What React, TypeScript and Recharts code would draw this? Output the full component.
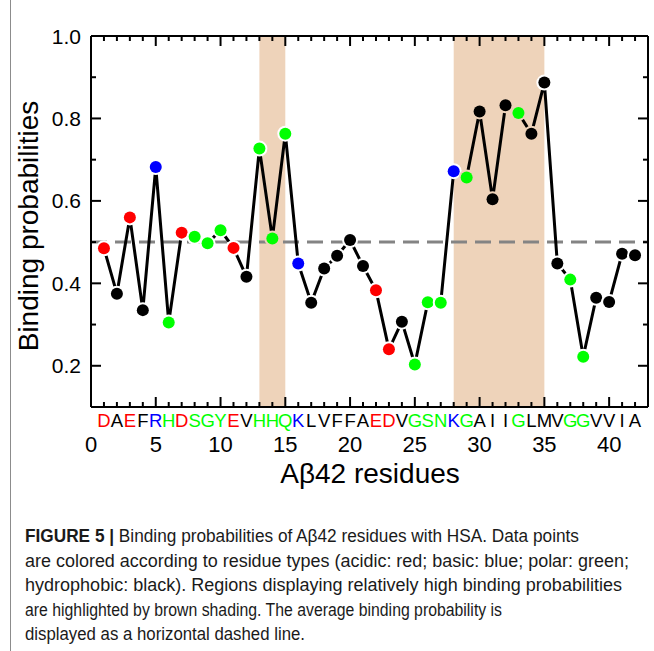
import React from 'react';
import { ComposedChart, Line, XAxis, YAxis, ReferenceArea, ReferenceLine } from 'recharts';

const residues = ['D','A','E','F','R','H','D','S','G','Y','E','V','H','H','Q','K','L','V','F','F','A','E','D','V','G','S','N','K','G','A','I','I','G','L','M','V','G','G','V','V','I','A'];
// a: acidic, b: basic, p: polar, h: hydrophobic
const residueTypes = ['a','h','a','h','b','p','a','p','p','p','a','h','p','p','p','b','h','h','h','h','h','a','a','h','p','p','p','b','p','h','h','h','p','h','h','h','p','p','h','h','h','h'];
const probabilities = [0.485,0.375,0.560,0.335,0.682,0.305,0.523,0.513,0.497,0.529,0.486,0.416,0.727,0.509,0.763,0.448,0.353,0.436,0.467,0.505,0.442,0.383,0.240,0.307,0.203,0.354,0.353,0.672,0.657,0.817,0.604,0.832,0.813,0.763,0.887,0.448,0.409,0.222,0.365,0.355,0.472,0.468];
const shadeStarts = [13, 28];
const shadeEnds = [15, 35];
const averageProbability = 0.5;
const xDomain = [0, 43];
const yDomain = [0.1, 1.0];
const xTicks = Array.from({ length: 43 }, (_, i) => i);
const yTicks = [0.2, 0.3, 0.4, 0.5, 0.6, 0.7, 0.8, 0.9, 1.0];
const yMajor = [0.2, 0.4, 0.6, 0.8, 1.0];
const captionLines = [
  'Binding probabilities of A\u03b242 residues with HSA. Data points',
  'are colored according to residue types (acidic: red; basic: blue; polar: green;',
  'hydrophobic: black). Regions displaying relatively high binding probabilities',
  'are highlighted by brown shading. The average binding probability is',
  'displayed as a horizontal dashed line.',
];
const captionWidths = [474, 604, 597, 477, 280];

const typeColors: Record<string, string> = { a: '#ff0000', b: '#0000ff', p: '#00ff00', h: '#000000' };
const SHADE = '#eed3ba';
const FONT = "'Liberation Sans', Arial, sans-serif";

// chart geometry
const CHART_W = 654;
const CHART_H = 500;
const MARGIN_TOP = 35;
const LEFT_W = 91;
const RIGHT_W = 6;
const BOTTOM_H = 93;
const TOP_H = 1;
const plotW = CHART_W - LEFT_W - RIGHT_W;
const plotH = CHART_H - MARGIN_TOP - TOP_H - BOTTOM_H;
const MAJOR_LEN = 10;
const MINOR_LEN = 5;

const data = probabilities.map((p, i) => ({ pos: i + 1, p, res: residues[i], type: residueTypes[i] }));

const inShade = (x: number) => shadeStarts.some((s, i) => x > s && x < shadeEnds[i]);
const isMajorY = (v: number) => yMajor.some((m) => Math.abs(m - v) < 1e-6);

const Dot = (props: any) => {
  const { cx, cy, payload } = props;
  if (cx == null || cy == null) return null;
  return (
    <g>
      <circle cx={cx} cy={cy} r={8} fill={inShade(payload.pos) ? SHADE : '#ffffff'} />
      <circle cx={cx} cy={cy} r={6} fill={typeColors[payload.type]} />
    </g>
  );
};

const BottomTick = (props: any) => {
  const { x, y, payload } = props;
  const v = payload.value as number;
  const major = v % 5 === 0;
  return (
    <g>
      {v >= 1 && v <= residues.length && (
        <text x={x} y={y + 20} textAnchor="middle" fontSize={18.5} fontFamily={FONT} fill={typeColors[residueTypes[v - 1]]}>
          {residues[v - 1]}
        </text>
      )}
      {major && (
        <text x={x} y={y + 45} textAnchor="middle" fontSize={22} fontFamily={FONT} fill="#000">
          {v}
        </text>
      )}
    </g>
  );
};

// Top axis ticks: draws the inward tick at the top frame and its mirror at the bottom frame.
const TopTick = (props: any) => {
  const { x, y, payload } = props;
  const len = (payload.value as number) % 5 === 0 ? MAJOR_LEN : MINOR_LEN;
  return (
    <g>
      <line x1={x} x2={x} y1={y} y2={y + len} stroke="#000" strokeWidth={2} />
      <line x1={x} x2={x} y1={y + plotH} y2={y + plotH - len} stroke="#000" strokeWidth={2} />
    </g>
  );
};

const LeftTick = (props: any) => {
  const { x, y, payload } = props;
  const v = payload.value as number;
  if (!isMajorY(v)) return null;
  return (
    <text x={x - 10} y={y + 7.5} textAnchor="end" fontSize={21} fontFamily={FONT} fill="#000">
      {v.toFixed(1)}
    </text>
  );
};

// Right axis ticks: draws the inward tick at the right frame and its mirror at the left frame.
const RightTick = (props: any) => {
  const { x, y, payload } = props;
  const len = isMajorY(payload.value as number) ? MAJOR_LEN : MINOR_LEN;
  return (
    <g>
      <line x1={x} x2={x - len} y1={y} y2={y} stroke="#000" strokeWidth={2} />
      <line x1={x - plotW} x2={x - plotW + len} y1={y} y2={y} stroke="#000" strokeWidth={2} />
    </g>
  );
};

export default function App() {
  return (
    <div style={{ position: 'absolute', left: 0, top: 0, width: 654, height: 651, background: '#fff', overflow: 'hidden' }}>
      <div style={{ position: 'absolute', left: 10, top: 0, width: 1, height: 651, background: '#8c8c8c' }} />
      <svg width={654} height={651} style={{ position: 'absolute', left: 0, top: 0, pointerEvents: 'none' }}>
        <text
          transform="translate(38,226) rotate(-90)"
          textAnchor="middle"
          fontSize={28}
          fontFamily={FONT}
          fill="#000"
        >
          Binding probabilities
        </text>
        <text x={370} y={483} textAnchor="middle" fontSize={28} fontFamily={FONT} fill="#000">
          A{'\u03b2'}42 residues
        </text>
        {captionLines.map((line, i) => (
          <text
            key={i}
            x={25}
            y={542 + i * 24.5}
            fontSize={17.5}
            fontFamily={FONT}
            fill="#1a1a1a"
            textLength={i === 0 ? captionWidths[i] + 80 : captionWidths[i]}
            lengthAdjust="spacingAndGlyphs"
          >
            {i === 0 && <tspan fontWeight="bold">FIGURE 5 | </tspan>}
            {line}
          </text>
        ))}
      </svg>
      <div style={{ position: 'absolute', left: 0, top: 0 }}>
        <ComposedChart width={CHART_W} height={CHART_H} data={data} margin={{ top: MARGIN_TOP, right: 0, bottom: 0, left: 0 }}>
          {shadeStarts.map((s, i) => (
            <ReferenceArea key={'area' + i} x1={s} x2={shadeEnds[i]} fill={SHADE} fillOpacity={1} stroke="none" />
          ))}
          <ReferenceLine y={averageProbability} stroke="#848484" strokeWidth={3} strokeDasharray="16 8" />
          <XAxis
            type="number"
            dataKey="pos"
            domain={xDomain}
            ticks={xTicks}
            interval={0}
            height={BOTTOM_H}
            tickSize={0}
            tickMargin={0}
            tickLine={false}
            axisLine={{ stroke: '#000', strokeWidth: 2 }}
            tick={<BottomTick />}
          />
          <XAxis
            xAxisId="top"
            orientation="top"
            type="number"
            dataKey="pos"
            domain={xDomain}
            ticks={xTicks}
            interval={0}
            height={TOP_H}
            tickSize={0}
            tickMargin={0}
            tickLine={false}
            axisLine={{ stroke: '#000', strokeWidth: 2 }}
            tick={<TopTick />}
          />
          <YAxis
            type="number"
            domain={yDomain}
            ticks={yTicks}
            interval={0}
            width={LEFT_W}
            tickSize={0}
            tickMargin={0}
            tickLine={false}
            axisLine={{ stroke: '#000', strokeWidth: 2 }}
            tick={<LeftTick />}
          />
          <YAxis
            yAxisId="right"
            orientation="right"
            type="number"
            domain={yDomain}
            ticks={yTicks}
            interval={0}
            width={RIGHT_W}
            tickSize={0}
            tickMargin={0}
            tickLine={false}
            axisLine={{ stroke: '#000', strokeWidth: 2 }}
            tick={<RightTick />}
          />
          <Line
            xAxisId="top"
            yAxisId="right"
            type="linear"
            dataKey="p"
            stroke="none"
            dot={false}
            activeDot={false}
            legendType="none"
            isAnimationActive={false}
          />
          <Line
            type="linear"
            dataKey="p"
            stroke="#000"
            strokeWidth={3}
            dot={<Dot />}
            activeDot={false}
            isAnimationActive={false}
          />
        </ComposedChart>
      </div>
    </div>
  );
}
